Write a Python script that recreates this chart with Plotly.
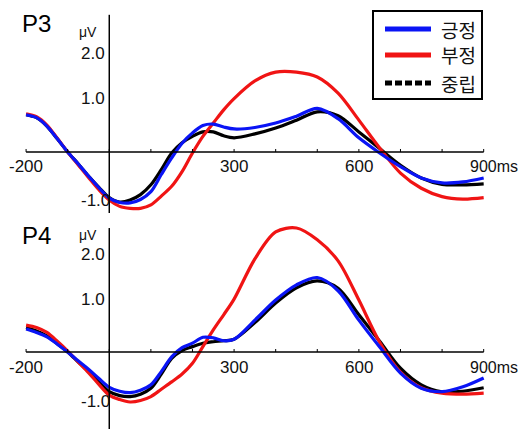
import plotly.graph_objects as go

# ---------------- data ----------------
time_ms = [-200, -175, -150, -125, -100, -75, -50, -25, 0, 25, 50, 75, 100, 125, 150, 175,
           200, 225, 250, 275, 300, 350, 400, 450, 500, 550, 600, 650, 700, 750, 800, 850, 900]

p3_pos = [0.76, 0.70, 0.53, 0.27, 0.0, -0.24, -0.49, -0.73, -0.94, -1.03, -1.04, -0.97, -0.81,
          -0.46, -0.12, 0.18, 0.39, 0.54, 0.57, 0.51, 0.47, 0.50, 0.59, 0.73, 0.89, 0.68, 0.29,
          -0.02, -0.30, -0.53, -0.63, -0.61, -0.53]
p3_neg = [0.78, 0.72, 0.55, 0.28, 0.0, -0.26, -0.52, -0.77, -0.98, -1.11, -1.15, -1.15, -1.08,
          -0.90, -0.70, -0.40, -0.02, 0.32, 0.59, 0.86, 1.09, 1.45, 1.63, 1.63, 1.53, 1.20, 0.65,
          0.08, -0.43, -0.74, -0.91, -0.96, -0.93]
p3_neu = [0.76, 0.70, 0.53, 0.27, 0.0, -0.24, -0.49, -0.72, -0.93, -1.02, -0.98, -0.87, -0.67,
          -0.36, -0.02, 0.19, 0.32, 0.41, 0.41, 0.33, 0.29, 0.37, 0.49, 0.65, 0.82, 0.74, 0.41,
          0.07, -0.27, -0.53, -0.66, -0.67, -0.65]

p4_pos = [0.47, 0.40, 0.31, 0.16, 0.0, -0.18, -0.35, -0.54, -0.72, -0.80, -0.83, -0.78, -0.67,
          -0.40, -0.10, 0.09, 0.18, 0.30, 0.29, 0.23, 0.26, 0.65, 1.06, 1.37, 1.52, 1.25, 0.65,
          0.10, -0.43, -0.74, -0.81, -0.71, -0.53]
p4_neg = [0.55, 0.50, 0.40, 0.22, 0.02, -0.20, -0.42, -0.66, -0.88, -0.97, -1.02, -0.99, -0.91,
          -0.76, -0.61, -0.45, -0.23, 0.11, 0.45, 0.76, 1.08, 1.90, 2.45, 2.53, 2.29, 1.86, 1.06,
          0.20, -0.41, -0.73, -0.84, -0.86, -0.84]
p4_neu = [0.50, 0.43, 0.33, 0.17, 0.0, -0.20, -0.40, -0.61, -0.81, -0.89, -0.91, -0.86, -0.74,
          -0.45, -0.13, 0.03, 0.11, 0.18, 0.21, 0.23, 0.26, 0.60, 1.00, 1.31, 1.45, 1.30, 0.76,
          0.22, -0.33, -0.67, -0.81, -0.80, -0.73]

series_names = ["긍정", "부정", "중립"]
panel_names = ["P3", "P4"]
x_tick_vals = [-200, 300, 600, 900]
x_tick_text = ["-200", "300", "600", "900ms"]
x_minor_ticks = [-200, -100, 0, 100, 200, 300, 400, 500, 600, 700, 800, 900]
y_tick_vals = [2.0, 1.0, -1.0]
y_tick_text = ["2.0", "1.0", "-1.0"]
unit_label = "μV"

# ---------------- styling ----------------
W, H = 518, 429
COL = {"긍정": "#0a14f5", "부정": "#f01414", "중립": "#000000"}
NUM_FONT = "Liberation Sans, Arial, sans-serif"
KR_FONT = "Noto Sans CJK KR, sans-serif"

x_range = [-262.7, 982.5]
top_dom = [1 - 215 / H, 1.0]
bot_dom = [0.0, 1 - 215 / H]
top_range = [-1.286, 3.102]
bot_range = [-1.571, 2.796]
top_axis_span = [-1.245, 2.80]
bot_axis_span = [-1.62, 2.53]

fig = go.Figure()

panels = [
    ("x", "y", {"긍정": p3_pos, "부정": p3_neg, "중립": p3_neu}, top_axis_span, panel_names[0], 2.63, 2.45),
    ("x2", "y2", {"긍정": p4_pos, "부정": p4_neg, "중립": p4_neu}, bot_axis_span, panel_names[1], 2.37, 2.39),
]

shapes = []
annotations = []
for xr, yr, data, span, pname, pname_y, unit_y in panels:
    # axes through the origin
    shapes.append(dict(type="line", xref=xr, yref=yr, x0=time_ms[0], x1=time_ms[-1], y0=0, y1=0,
                       line=dict(color="black", width=1.5)))
    shapes.append(dict(type="line", xref=xr, yref=yr, x0=0, x1=0, y0=span[0], y1=span[1],
                       line=dict(color="black", width=1.5)))
    for t in x_minor_ticks:
        shapes.append(dict(type="line", xref=xr, yref=yr, x0=t, x1=t, ysizemode="pixel",
                           yanchor=0, y0=0, y1=3, line=dict(color="black", width=1)))
    for name in ["중립", "부정", "긍정"]:
        fig.add_trace(go.Scatter(x=time_ms, y=data[name], mode="lines", name=name,
                                 xaxis=xr, yaxis=yr, showlegend=False,
                                 line=dict(color=COL[name], width=3.2, shape="spline",
                                           smoothing=0.9)))
    for v, txt in zip(x_tick_vals, x_tick_text):
        if txt.endswith("ms"):
            annotations.append(dict(xref=xr, yref=yr, x=v, y=0, text=txt, showarrow=False,
                                    xanchor="left", yanchor="middle", xshift=-16, yshift=-15,
                                    font=dict(family=NUM_FONT, size=16, color="#111")))
        else:
            annotations.append(dict(xref=xr, yref=yr, x=v, y=0, text=txt, showarrow=False,
                                    xanchor="center", yanchor="middle", yshift=-15,
                                    font=dict(family=NUM_FONT, size=17, color="#111")))
    for v, txt in zip(y_tick_vals, y_tick_text):
        annotations.append(dict(xref=xr, yref=yr, x=-72, y=v, text=txt, showarrow=False,
                                xanchor="left", yanchor="middle",
                                yshift=4 if v == 1.0 else 0,
                                font=dict(family=NUM_FONT, size=17, color="#111")))
    annotations.append(dict(xref=xr, yref=yr, x=-50, y=unit_y, text=unit_label, showarrow=False,
                            xanchor="center", yanchor="middle",
                            font=dict(family=NUM_FONT, size=14, color="#111")))
    annotations.append(dict(xref=xr, yref=yr, x=-176, y=pname_y, text=pname, showarrow=False,
                            xanchor="center", yanchor="middle",
                            font=dict(family=NUM_FONT, size=24, color="#000")))

# ---------------- manual legend ----------------
def px(xp):
    return xp / W

def py(yp):
    return 1 - yp / H

shapes.append(dict(type="rect", xref="paper", yref="paper", x0=px(373), x1=px(482),
                   y0=py(99), y1=py(11), line=dict(color="black", width=2),
                   fillcolor="white", layer="above"))
leg_y = {"긍정": 29, "부정": 55, "중립": 83}
for name in series_names:
    dash = "7px,3px" if name == "중립" else "solid"
    shapes.append(dict(type="line", xref="paper", yref="paper", x0=px(385), x1=px(431),
                       y0=py(leg_y[name]), y1=py(leg_y[name]), layer="above",
                       line=dict(color=COL[name], width=5, dash=dash)))
    annotations.append(dict(xref="paper", yref="paper", x=px(439), y=py(leg_y[name]),
                            text=name, showarrow=False, xanchor="left", yanchor="middle",
                            font=dict(family=KR_FONT, size=19, color="#111")))

ax_common = dict(range=x_range, visible=False, showgrid=False, zeroline=False, fixedrange=True)
fig.update_layout(
    width=W, height=H,
    margin=dict(l=0, r=0, t=0, b=0),
    paper_bgcolor="white", plot_bgcolor="rgba(0,0,0,0)",
    showlegend=False,
    xaxis=dict(domain=[0, 1], anchor="y", **ax_common),
    xaxis2=dict(domain=[0, 1], anchor="y2", **ax_common),
    yaxis=dict(domain=top_dom, range=top_range, anchor="x", visible=False, showgrid=False,
               zeroline=False),
    yaxis2=dict(domain=bot_dom, range=bot_range, anchor="x2", visible=False, showgrid=False,
                zeroline=False),
    shapes=shapes,
    annotations=annotations,
)

fig.write_html("out.html")
